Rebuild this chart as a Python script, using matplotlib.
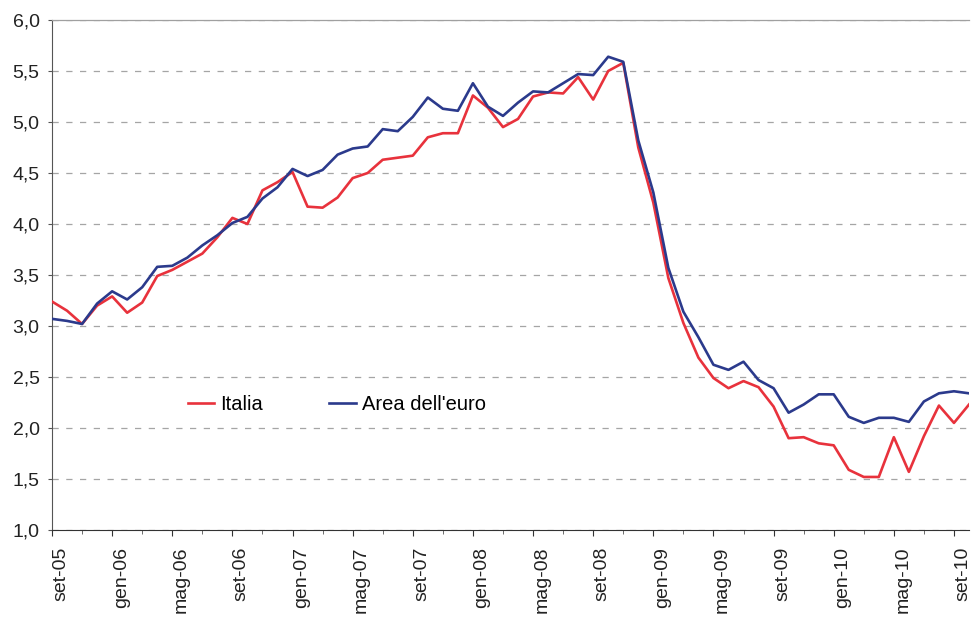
import matplotlib
matplotlib.use("Agg")
import matplotlib.pyplot as plt
from matplotlib.ticker import FuncFormatter, MultipleLocator, FixedLocator
from matplotlib.transforms import ScaledTranslation

# Monthly data, set-05 .. ott-10
italia = [3.24, 3.15, 3.02, 3.20, 3.29, 3.13, 3.23, 3.49, 3.55, 3.63,
          3.71, 3.87, 4.06, 4.00, 4.33, 4.41, 4.51, 4.17, 4.16, 4.26,
          4.45, 4.50, 4.63, 4.65, 4.67, 4.85, 4.89, 4.89, 5.26, 5.14,
          4.95, 5.03, 5.25, 5.29, 5.28, 5.44, 5.22, 5.50, 5.58, 4.75,
          4.21, 3.47, 3.03, 2.69, 2.49, 2.39, 2.46, 2.40, 2.21, 1.90,
          1.91, 1.85, 1.83, 1.59, 1.52, 1.52, 1.91, 1.57, 1.92, 2.22,
          2.05, 2.23]
euro = [3.07, 3.05, 3.02, 3.22, 3.34, 3.26, 3.38, 3.58, 3.59, 3.67,
        3.79, 3.89, 4.01, 4.07, 4.25, 4.36, 4.54, 4.47, 4.53, 4.68,
        4.74, 4.76, 4.93, 4.91, 5.05, 5.24, 5.13, 5.11, 5.38, 5.15,
        5.06, 5.19, 5.30, 5.29, 5.38, 5.47, 5.46, 5.64, 5.59, 4.82,
        4.31, 3.57, 3.14, 2.89, 2.62, 2.57, 2.65, 2.47, 2.39, 2.15,
        2.23, 2.33, 2.33, 2.11, 2.05, 2.10, 2.10, 2.06, 2.26, 2.34,
        2.36, 2.34]
tick_labels = ["set-05", "gen-06", "mag-06", "set-06", "gen-07", "mag-07",
               "set-07", "gen-08", "mag-08", "set-08", "gen-09", "mag-09",
               "set-09", "gen-10", "mag-10", "set-10"]
series_names = ["Italia", "Area dell'euro"]

plt.rcParams["font.family"] = ["Liberation Sans", "DejaVu Sans"]

fig = plt.figure(figsize=(9.72, 6.17), dpi=100)
ax = fig.add_axes([52 / 972, 87 / 617, 917 / 972, 510 / 617])

x = list(range(len(italia)))
ax.plot(x, italia, color="#E8323C", lw=1.9, label=series_names[0], zorder=3)
ax.plot(x, euro, color="#2B3A8C", lw=1.9, label=series_names[1], zorder=4)

ax.set_xlim(0, len(italia) - 1)
ax.set_ylim(1.0, 6.0)

ax.yaxis.set_major_locator(MultipleLocator(0.5))
ax.yaxis.set_major_formatter(FuncFormatter(lambda v, p: f"{v:.1f}".replace(".", ",")))

ax.xaxis.set_major_locator(FixedLocator([4 * i for i in range(len(tick_labels))]))
ax.set_xticklabels(tick_labels, rotation=90)
ax.xaxis.set_minor_locator(MultipleLocator(2))

ax.grid(axis="y", which="major", linestyle=(0, (5, 6)), color="#a5a5a5", lw=0.9)

ax.spines["right"].set_visible(False)
ax.spines["top"].set_color("#a0a0a0")
ax.spines["top"].set_linewidth(0.9)
ax.spines["left"].set_color("#555555")
ax.spines["bottom"].set_color("#333333")

ax.tick_params(axis="y", labelsize=14, length=3, colors="#555555",
               labelcolor="#222222", pad=6)
ax.tick_params(axis="x", which="major", labelsize=14, length=4, colors="#333333",
               labelcolor="#222222", pad=8)
ax.tick_params(axis="x", which="minor", length=3, colors="#555555")

shift = ScaledTranslation(9 / 100, 0, fig.dpi_scale_trans)
for lab in ax.get_xticklabels():
    lab.set_transform(lab.get_transform() + shift)

ax.legend(loc="center left", bbox_to_anchor=((188 - 52) / 917, (530 - 405) / 510),
          ncol=2, frameon=False, fontsize=14.5, handlelength=1.3,
          handletextpad=0.3, columnspacing=3.3, borderpad=0, borderaxespad=0)

fig.savefig("out.png", dpi=100)
